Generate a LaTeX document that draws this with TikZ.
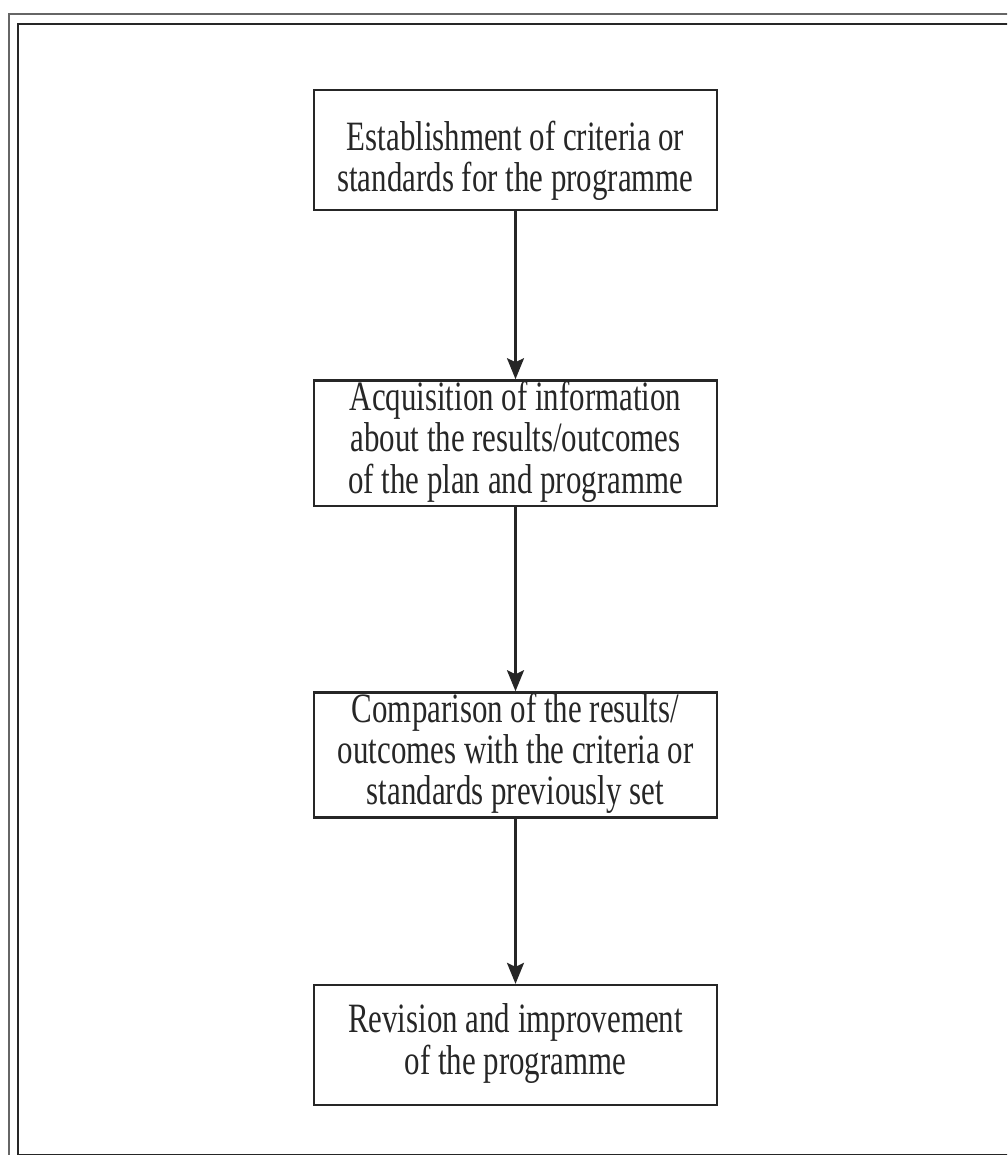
\documentclass[tikz,border=0pt]{standalone}
\usepackage{fontspec}
\usepackage{graphicx}
\setmainfont{Liberation Serif}
\usetikzlibrary{arrows.meta,positioning}
\tikzset{every picture/.style={line width=1.4pt}}
\tikzset{
    stagebox/.style={draw=black!85, line width=1.4pt, align=center, minimum width=8.06cm,
        minimum height=2.4cm, inner xsep=0.1cm, inner ysep=0.02cm,
        font=\fontsize{17.6}{16.8}\selectfont, text=black!85},
    flowarrow/.style={draw=black!85, line width=1.4pt, -{Stealth[length=4.2mm,width=3.4mm,inset=0.8mm]}},
}
\newcommand{\boxtext}[1]{\scalebox{1}[1.35]{\begin{tabular}{@{}c@{}}#1\end{tabular}}}

\begin{document}
\begin{tikzpicture}[x=0.02cm,y=-0.02cm]
    \useasboundingbox (0,0) rectangle (1007,1155);
    \clip (0,0) rectangle (1007,1155);
    \draw[black!60, line width=1.2pt] (9,14) rectangle (1060,1175);
    \draw[black!85, line width=1.2pt] (18,24) rectangle (1050,1155.5);
    \node[stagebox] (est) at (515.5,150) {\raisebox{-0.25cm}[\height][\depth]{\boxtext{Establishment of criteria or\\standards for the programme}}};
    \node[stagebox, below=3.36cm of est] (acq) {\boxtext{Acquisition of information\\about the results/outcomes\\of the plan and programme}};
    \node[stagebox, below=3.68cm of acq] (cmp) {\boxtext{Comparison of the results/\\outcomes with the criteria or\\standards previously set}};
    \node[stagebox, below=3.3cm of cmp] (rev) {\boxtext{Revision and improvement\\of the programme}};
    \draw[flowarrow] (est) -- (acq);
    \draw[flowarrow] (acq) -- (cmp);
    \draw[flowarrow] (cmp) -- (rev);
\end{tikzpicture}
\end{document}
